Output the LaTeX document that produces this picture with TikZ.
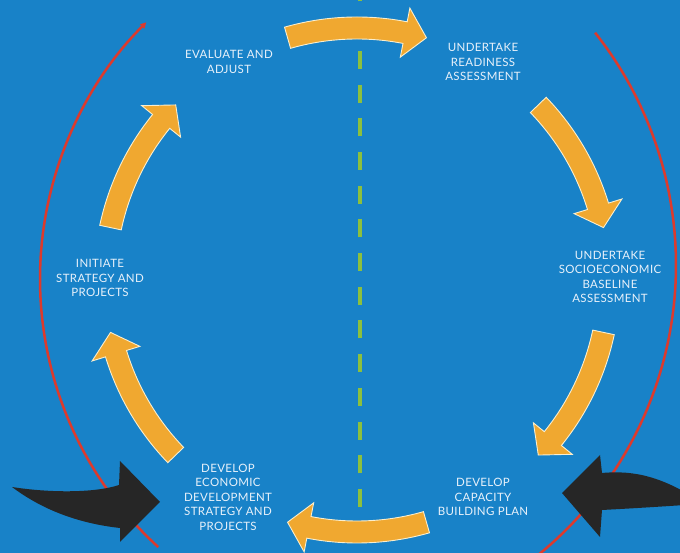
\documentclass[tikz,border=0pt]{standalone}
\usepackage{fontspec}
\setmainfont{Lato}[LetterSpace=3]
\usetikzlibrary{arrows.meta,calc}
\definecolor{bg}{RGB}{24,130,200}
\definecolor{flowor}{RGB}{240,168,48}
\definecolor{flowedge}{RGB}{250,238,205}
\definecolor{redline}{RGB}{220,58,45}
\definecolor{greendash}{RGB}{140,192,62}
\definecolor{blackarr}{RGB}{38,38,38}
\definecolor{txt}{RGB}{232,241,250}
\tikzset{
  flow/.style={fill=flowor,draw=flowedge,line width=0.9pt,line join=miter},
  lbl/.style={text=txt,align=center,font=\fontsize{11.5}{14.5}\selectfont,inner sep=0pt},
  redarc/.style={draw=redline,line width=2.5pt},
  bigblack/.style={fill=blackarr},
  divider/.style={draw=greendash,line width=4pt,dash pattern=on 18pt off 15.7pt}
}
\begin{document}
\begin{tikzpicture}[x=1pt,y=1pt]
\useasboundingbox (0,0) rectangle (680,553);
\fill[bg] (0,0) rectangle (680,553);
\clip (0,0) rectangle (680,553);
% green dashed divider
\coordinate (dvb) at (360,46);
\coordinate (dvt) at (360,600);
\draw[divider] (dvb) -- (dvt);
% red arcs
\coordinate (lrs) at ($(403,274)+(227.6:363pt)$);
\coordinate (rrs) at ($(302,288)+(38.4:374pt)$);
\draw[redarc,-{Triangle[length=6pt,width=6pt]}] (lrs) arc[start angle=227.6,end angle=135,radius=363pt];
\draw[redarc] (rrs) arc[start angle=38.4,end angle=-52,radius=374pt];
% black arrows
\fill[bigblack] (12,66) .. controls (50,60) and (95,60) .. (119,68) -- (120,92) -- (160,51) -- (120,11) -- (120,25) .. controls (75,30) and (40,45) .. (12,66) -- cycle;
\fill[bigblack] (562,60) -- (600,98) -- (602,80) .. controls (635,83) and (662,76) .. (700,52) -- (700,49) .. controls (670,47) and (640,45) .. (602,43) -- (600,16) -- cycle;
% orange cycle arrows
\begin{scope}[shift={(357,273)}]
\foreach \c in {90,28,-28,-90,-152,152}{
  \filldraw[flow] ({\c+16}:263pt) arc[start angle={\c+16},end angle={\c-11},radius=263pt]
    -- ({\c-11}:277pt) -- ({\c-16}:252pt) -- ({\c-11}:227pt) -- ({\c-11}:241pt)
    arc[start angle={\c-11},end angle={\c+16},radius=241pt] -- cycle;
}
\end{scope}
% labels
\node[lbl] (eval) at (229,491) {EVALUATE AND\\ADJUST};
\node[lbl] (ready) at (483,491) {UNDERTAKE\\READINESS\\ASSESSMENT};
\node[lbl] (socio) at (610,276) {UNDERTAKE\\SOCIOECONOMIC\\BASELINE\\ASSESSMENT};
\node[lbl] (cap) at (483,56) {DEVELOP\\CAPACITY\\BUILDING PLAN};
\node[lbl] (econ) at (228,56) {DEVELOP\\ECONOMIC\\DEVELOPMENT\\STRATEGY AND\\PROJECTS};
\node[lbl] (init) at (100,275) {INITIATE\\STRATEGY AND\\PROJECTS};
\end{tikzpicture}
\end{document}
